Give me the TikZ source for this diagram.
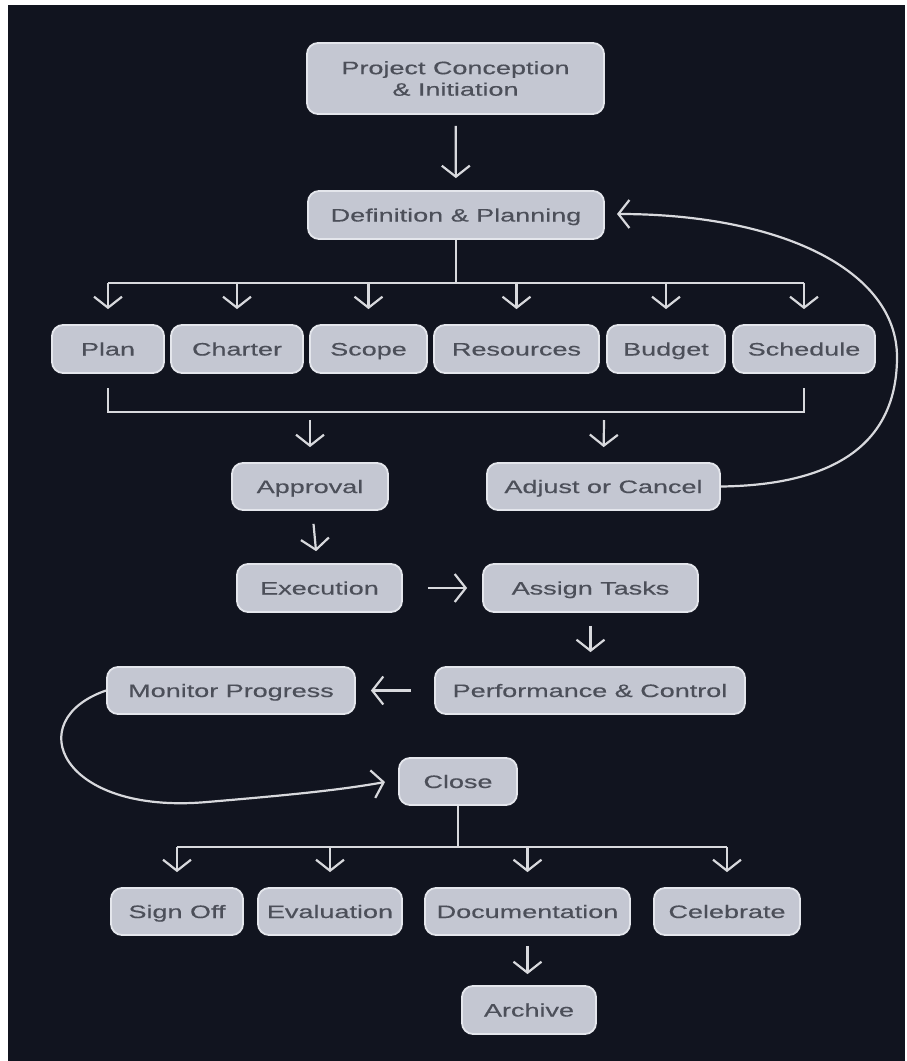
\documentclass[tikz,border=0pt]{standalone}
\usepackage{fontspec}
\setmainfont{Liberation Sans}[FakeStretch=1.5,FakeBold=0.4]
\usetikzlibrary{arrows.meta}
\definecolor{bg}{HTML}{11141F}
\definecolor{boxfill}{HTML}{C4C7D2}
\definecolor{boxline}{HTML}{E4E6EC}
\definecolor{txt}{HTML}{4C4F59}
\definecolor{wirecol}{HTML}{D8D9DD}
\begin{document}
\begin{tikzpicture}[x=1pt,y=-1pt,
  boxbase/.style={draw=boxline, line width=1.8pt, fill=boxfill, rounded corners=11pt,
    text=txt, font=\fontsize{18}{21.5}\selectfont, inner sep=0pt,
    minimum height=47pt, align=center},
  box/.style={boxbase, text height=16pt, text depth=3pt},
  wire/.style={draw=wirecol, line width=2.2pt},
  arr/.style={wire, -{Straight Barb[length=11pt,width=28pt]}}
]
\useasboundingbox (0,0) rectangle (906,1061);
\fill[white] (0,0) rectangle (906,1061);
\fill[bg] (8,5) rectangle (905,1061);

% nodes
\node[boxbase, minimum width=297pt, minimum height=71pt] (pci) at (455.5,78.5) {Project Conception\\\& Initiation};
\node[box, minimum width=296pt, minimum height=48pt] (def) at (456,215) {Definition \& Planning};

\node[box, minimum width=112pt, minimum height=48pt] (plan) at (108,349) {Plan};
\node[box, minimum width=132pt, minimum height=48pt] (charter) at (237,349) {Charter};
\node[box, minimum width=117pt, minimum height=48pt] (scope) at (368.5,349) {Scope};
\node[box, minimum width=165pt, minimum height=48pt] (res) at (516.5,349) {Resources};
\node[box, minimum width=118pt, minimum height=48pt] (budget) at (666,349) {Budget};
\node[box, minimum width=142pt, minimum height=48pt] (sched) at (804,349) {Schedule};

\node[box, minimum width=156pt] (approval) at (310,486.5) {Approval};
\node[box, minimum width=233pt] (adjust) at (603.5,486.5) {Adjust or Cancel};

\node[box, minimum width=165pt, minimum height=48pt] (exec) at (319.5,588) {Execution};
\node[box, minimum width=215pt, minimum height=48pt] (assign) at (590.5,588) {Assign Tasks};

\node[box, minimum width=248pt] (monitor) at (231,690.5) {Monitor Progress};
\node[box, minimum width=310pt] (perf) at (590,690.5) {Performance \& Control};

\node[box, minimum width=118pt] (close) at (458,781.5) {Close};

\node[box, minimum width=132pt] (signoff) at (177,911.5) {Sign Off};
\node[box, minimum width=144pt] (eval) at (330,911.5) {Evaluation};
\node[box, minimum width=205pt] (doc) at (527.5,911.5) {Documentation};
\node[box, minimum width=146pt] (celeb) at (727,911.5) {Celebrate};

\node[box, minimum width=134pt, minimum height=48pt] (archive) at (529,1010) {Archive};

% top arrow
\draw[arr, shorten <=11pt, shorten >=12pt] (pci) -- (def);

% definition bracket
\coordinate (dj) at (456,283);
\draw[wire] (def.south) -- (dj);
\draw[wire] (108,283) -- (804,283);
\foreach \n in {plan,charter,scope,res,budget,sched}{
  \draw[arr, shorten >=15pt] (\n.north |- dj) -- (\n.north);
}

% lower bracket
\coordinate (pl1) at (108,388);
\coordinate (pl2) at (108,412);
\coordinate (sc1) at (804,388);
\coordinate (sc2) at (804,412);
\draw[wire] (pl1) -- (pl2) -- (sc2) -- (sc1);
\coordinate (ap0) at (310,420);
\coordinate (ad0) at (604,420);
\draw[arr, shorten >=15pt] (ap0) -- (approval.north);
\draw[arr, shorten >=15pt] (ad0) -- (adjust.north);

% feedback curve
\coordinate (defin) at (617,214);
\coordinate (far) at (897,357);
\draw[arr] (adjust.east) .. controls (840,485) and (897,440) .. (far)
  .. controls (897,270) and (780,214) .. (defin);

% execution chain
\draw[arr, shorten <=13pt, shorten >=12pt] (approval) -- (exec);
\draw[arr, shorten <=25pt, shorten >=15pt] (exec) -- (assign);
\draw[arr, shorten <=13pt, shorten >=14pt] (assign.south) -- (assign.south |- perf.north);
\draw[arr, shorten <=23pt, shorten >=15pt] (perf) -- (monitor);

% monitor to close curve
\coordinate (low) at (207,802);
\coordinate (closein) at (385,782);
\draw[arr] (monitor.west) .. controls (20,720) and (60,815) .. (low)
  .. controls (290,795) and (340,790) .. (closein);

% close bracket
\coordinate (cj) at (458,847);
\draw[wire] (close.south) -- (cj);
\draw[wire] (177,847) -- (727,847);
\foreach \n in {signoff,eval,doc,celeb}{
  \draw[arr, shorten >=15pt] (\n.north |- cj) -- (\n.north);
}

% documentation to archive
\draw[arr, shorten <=10pt, shorten >=11pt] (doc.south) -- (doc.south |- archive.north);
\end{tikzpicture}
\end{document}
